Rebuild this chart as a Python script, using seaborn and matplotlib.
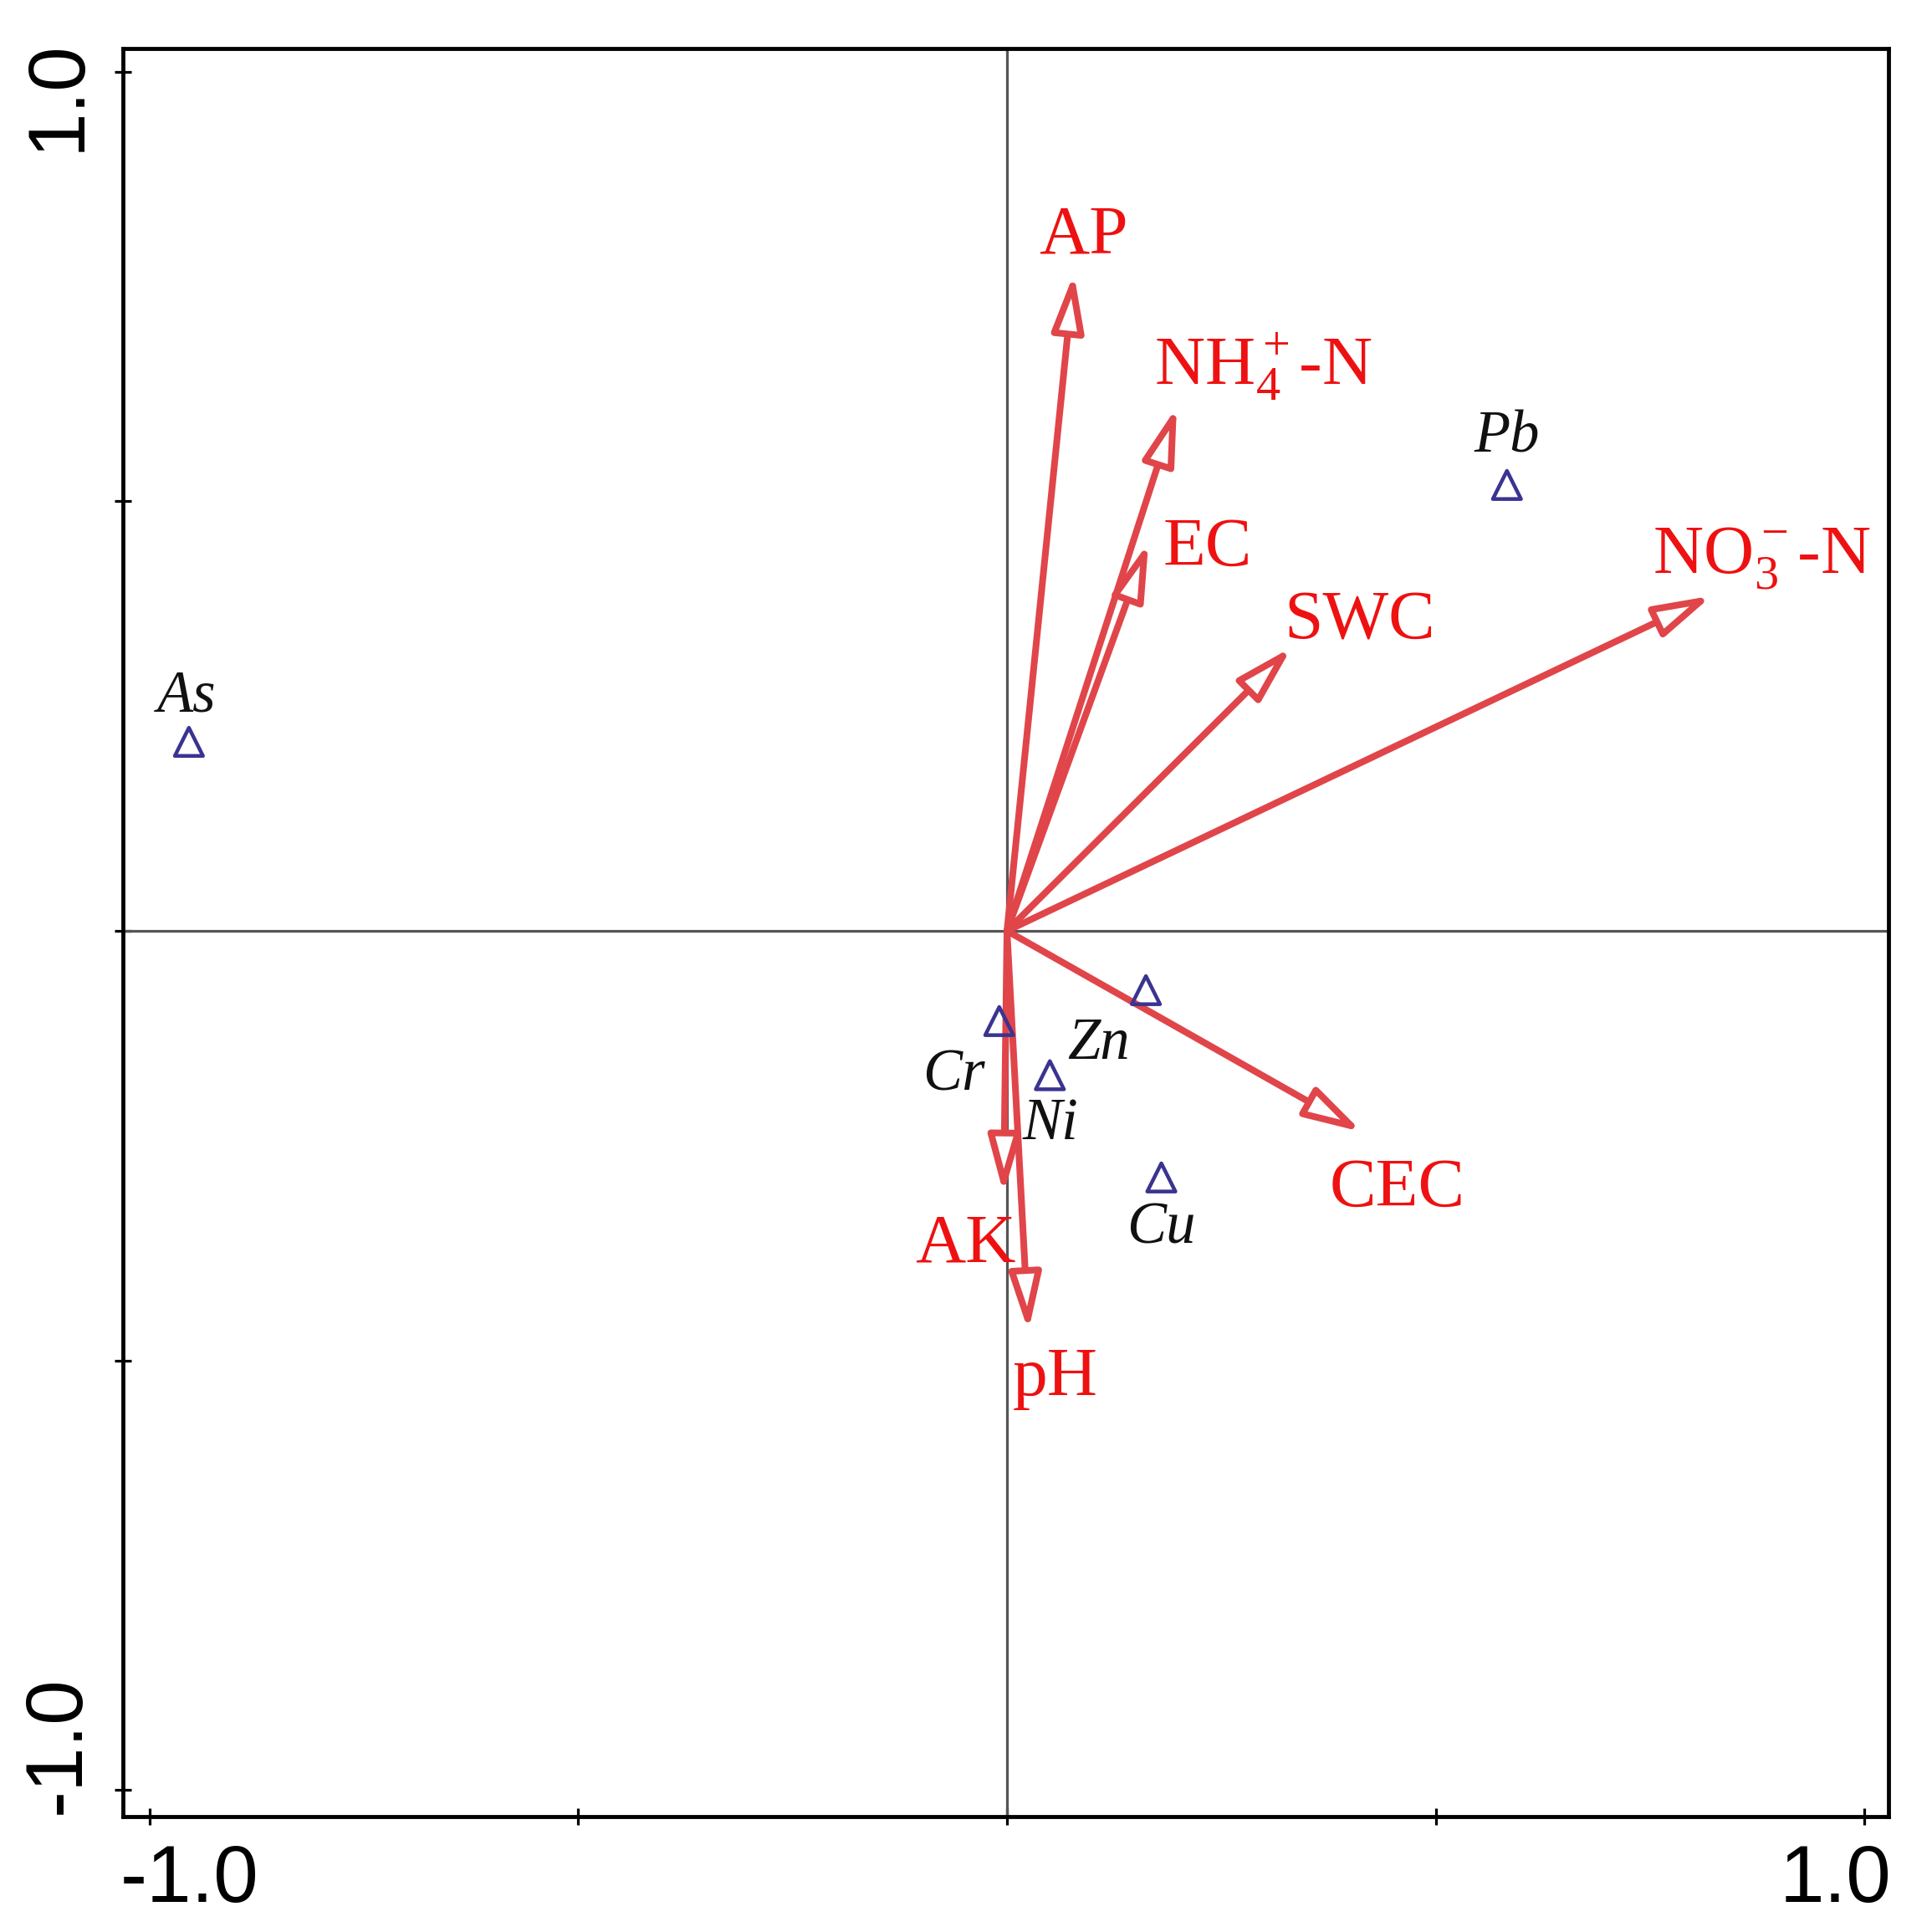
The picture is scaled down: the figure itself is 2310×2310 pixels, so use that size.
import matplotlib
matplotlib.use("Agg")
import matplotlib.pyplot as plt
import matplotlib.transforms as mtransforms
import seaborn as sns
import pandas as pd

# ---- data ----
env_names = ["AP", r"NH$_4^+$-N", "EC", "SWC", r"NO$_3^-$-N", "CEC", "AK", "pH"]
env_x = [0.078, 0.198, 0.165, 0.332, 0.822, 0.414, -0.004, 0.025]
env_y = [0.765, 0.610, 0.452, 0.330, 0.390, -0.234, -0.306, -0.466]

sp_names = ["As", "Pb", "Cr", "Zn", "Ni", "Cu"]
sp_x = [-0.954, 0.583, -0.009, 0.162, 0.050, 0.180]
sp_y = [0.220, 0.519, -0.105, -0.069, -0.168, -0.287]

tick_vals = [-1.0, -0.5, 0.0, 0.5, 1.0]
tick_labels = ["-1.0", "", "", "", "1.0"]

# label offsets (layout, data units)
env_lab_off = [(0.011, 0.043), (0.101, 0.047), (0.069, -0.007), (0.079, 0.029),
               (0.058, 0.043), (0.041, -0.067), (-0.044, -0.060), (0.031, -0.055)]
sp_lab_off = [(-0.003, 0.053), (0.0, 0.055), (-0.053, -0.063), (-0.055, -0.063),
              (0.001, -0.057), (0.0, -0.060)]

sns.set_style("white")
plt.rcParams["font.family"] = ["Liberation Serif", "DejaVu Serif"]
plt.rcParams["mathtext.fontset"] = "custom"
plt.rcParams["mathtext.rm"] = "Liberation Serif"
plt.rcParams["mathtext.it"] = "Liberation Serif:italic"

fig = plt.figure(figsize=(10, 10), dpi=231)
ax = fig.add_axes([0.0636, 0.0597, 0.9139, 0.9152])

ax.set_xlim(-1.031, 1.028)
ax.set_ylim(-1.031, 1.027)

ax.axhline(0, color="#555555", lw=1.0, zorder=1)
ax.axvline(0, color="#555555", lw=1.0, zorder=1)

arrow_col = "#e0454a"
for name, x, y, (dx, dy) in zip(env_names, env_x, env_y, env_lab_off):
    ax.annotate("", xy=(x, y), xytext=(0, 0),
                arrowprops=dict(arrowstyle="-|>,head_length=0.5,head_width=0.14",
                                mutation_scale=36, shrinkA=0, shrinkB=0,
                                ec=arrow_col, fc="white", lw=2.5),
                zorder=3)
    ax.text(x + dx, y + dy, name, color="#ee1111", fontsize=26,
            ha="center", va="center", zorder=4)

df = pd.DataFrame({"x": sp_x, "y": sp_y, "name": sp_names})
sns.scatterplot(data=df, x="x", y="y", marker="^", s=110,
                fc="none", ec="#3a3490", linewidth=1.4, ax=ax, zorder=5)
for name, x, y, (dx, dy) in zip(sp_names, sp_x, sp_y, sp_lab_off):
    ax.text(x + dx, y + dy, name, color="#111111", fontsize=22, style="italic",
            ha="center", va="center", zorder=6)

ax.set_xticks(tick_vals)
ax.set_xticklabels(tick_labels, fontsize=30, family="Liberation Sans", color="black")
ax.set_yticks(tick_vals)
ax.set_yticklabels(tick_labels, fontsize=30, family="Liberation Sans", color="black",
                   rotation=90, va="center")
ax.tick_params(axis="both", direction="inout", length=6, width=1.0,
               color="black", pad=7, bottom=True, left=True)
ax.set_xlabel("")
ax.set_ylabel("")
for s in ax.spines.values():
    s.set_color("black")
    s.set_linewidth(1.5)

# shift the end labels inward like the reference
shifts_x = {0: (15.0 / 72, 0), 4: (-11.0 / 72, 0)}
shifts_y = {0: (0, 17.0 / 72), 4: (0, -9.0 / 72)}
for i, lab in enumerate(ax.get_xticklabels()):
    if i in shifts_x:
        lab.set_transform(lab.get_transform() +
                          mtransforms.ScaledTranslation(*shifts_x[i], fig.dpi_scale_trans))
for i, lab in enumerate(ax.get_yticklabels()):
    if i in shifts_y:
        lab.set_transform(lab.get_transform() +
                          mtransforms.ScaledTranslation(*shifts_y[i], fig.dpi_scale_trans))

fig.savefig("out.png", dpi=231)
